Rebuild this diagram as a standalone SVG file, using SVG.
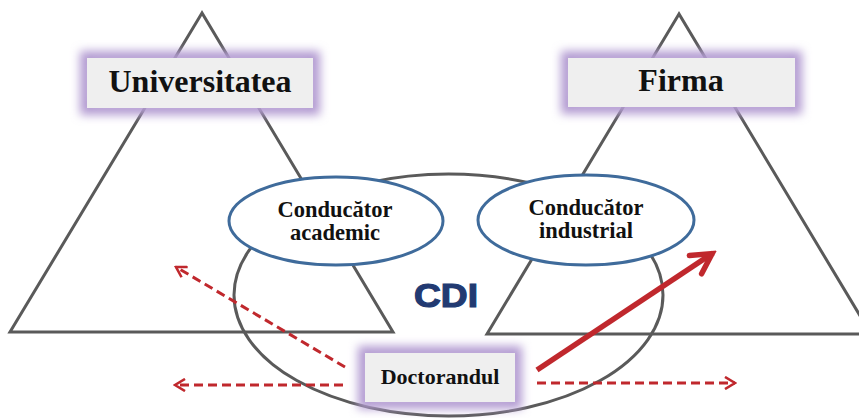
<svg xmlns="http://www.w3.org/2000/svg" width="859" height="418" viewBox="0 0 859 418">
<defs>
<filter id="glow" x="-25%" y="-50%" width="150%" height="200%"><feGaussianBlur stdDeviation="5"/></filter>
<marker id="chev" viewBox="0 0 14 14" refX="12" refY="7" markerWidth="14" markerHeight="14" markerUnits="userSpaceOnUse" orient="auto"><path d="M2,1 L12,7 L2,13" fill="none" stroke="#c0282d" stroke-width="2.6"/></marker>
<marker id="big" viewBox="-26 -15 30 30" refX="0" refY="0" markerWidth="30" markerHeight="30" markerUnits="userSpaceOnUse" orient="auto"><path d="M-21,-11 L-1,0 L-21,11" fill="none" stroke="#c0282d" stroke-width="5.5" stroke-linecap="round"/></marker>
</defs>
<style>
.tri{fill:none;stroke:#5a5a5a;stroke-width:3}
.big{fill:none;stroke:#5a5a5a;stroke-width:3}
.blue{fill:#fff;stroke:#3f6b9b;stroke-width:3}
.gl{fill:none;stroke:#b39bd2;stroke-width:14}
.box{fill:#efefef}
.lbl{font-family:"Liberation Serif","Times New Roman",serif;font-weight:bold;fill:#111;text-anchor:middle}
.dash{fill:none;stroke:#c0282d;stroke-width:3;stroke-dasharray:9,5}
</style>
<rect width="859" height="418" fill="#fff"/>
<g id="triangles">
<polygon class="tri" points="202,13 10,332 393,332"/>
<polygon class="tri" points="679,14 487,334 871,334"/>
</g>
<g id="cdi">
<ellipse class="big" cx="448.5" cy="295" rx="214.5" ry="121"/>
<text x="446" y="307" font-family="'Liberation Sans',Arial,sans-serif" font-weight="bold" font-size="33" fill="#223a72" stroke="#223a72" stroke-width="1.2" text-anchor="middle" textLength="64" lengthAdjust="spacingAndGlyphs">CDI</text>
</g>
<g id="connectors">
<line class="dash" x1="345" y1="367" x2="176" y2="267" marker-end="url(#chev)"/>
<line class="dash" x1="343" y1="385" x2="175" y2="385" marker-end="url(#chev)"/>
<line class="dash" x1="537" y1="383" x2="735" y2="383" marker-end="url(#chev)"/>
<line x1="537" y1="370" x2="713" y2="253" stroke="#c0282d" stroke-width="5.5" marker-end="url(#big)"/>
</g>
<g id="conducator-academic">
<ellipse class="blue" cx="336" cy="221" rx="107" ry="44"/>
<text class="lbl" font-size="22.5" x="335" y="217">Conducător</text>
<text class="lbl" font-size="22.5" x="335" y="240">academic</text>
</g>
<g id="conducator-industrial">
<ellipse class="blue" cx="586" cy="220" rx="108" ry="45"/>
<text class="lbl" font-size="22.5" x="586" y="215">Conducător</text>
<text class="lbl" font-size="22.5" x="586" y="238">industrial</text>
</g>
<g id="universitatea">
<rect class="gl" x="87" y="58" width="226" height="50" filter="url(#glow)"/>
<rect class="box" x="87" y="58" width="226" height="50"/>
<text class="lbl" font-size="32" x="200" y="92">Universitatea</text>
</g>
<g id="firma">
<rect class="gl" x="568" y="58" width="227" height="49" filter="url(#glow)"/>
<rect class="box" x="568" y="58" width="227" height="49"/>
<text class="lbl" font-size="32" x="681" y="91">Firma</text>
</g>
<g id="doctorandul">
<rect class="gl" x="365" y="353" width="150" height="49" filter="url(#glow)"/>
<rect class="box" x="365" y="353" width="150" height="49"/>
<text class="lbl" font-size="22" x="440" y="384">Doctorandul</text>
</g>
</svg>
